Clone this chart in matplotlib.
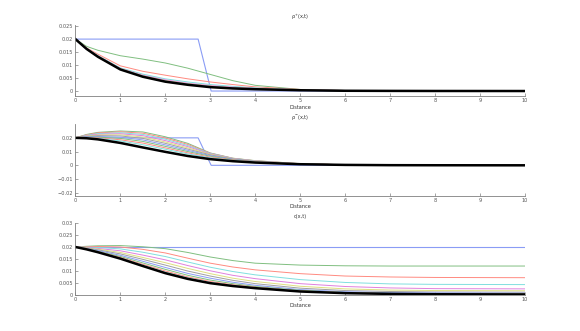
import matplotlib
matplotlib.use("Agg")
import matplotlib.pyplot as plt

# ---------------- data ----------------
X = [0, 0.25, 0.5, 1, 1.5, 2, 2.5, 3, 3.5, 4, 5, 6, 7, 8, 10]

# initial profiles (blue)
init_x = [0, 2.73, 3.02, 10]
init_rho = [0.02, 0.02, 0.0, 0.0]
init_c_x = [0, 10]
init_c = [0.02, 0.02]

# rho+ intermediate curves
rp1 = [.0200, .0172, .0157, .0136, .0123, .0108, .0088, .0064, .0040, .0022, .0006, .0002, .0001, .00003, 0]
rp2 = [.0200, .0166, .0142, .0097, .0076, .0061, .0047, .0035, .0025, .0016, .0006, .0002, .0001, .00003, 0]
rp3 = [.0200, .0164, .0137, .0089, .0065, .0047, .0035, .0025, .0018, .0012, .0005, .0002, .0001, .00003, 0]
rp4 = [.0200, .0163, .0135, .0087, .0061, .0043, .0030, .0021, .0015, .0010, .0004, .0002, .0001, .00002, 0]
rp5 = [.0200, .0163, .0134, .0086, .0059, .0040, .0028, .0019, .0013, .0009, .0004, .0001, .0001, .00002, 0]
rp6 = [.0200, .0162, .0133, .0085, .0058, .0039, .0027, .0018, .0012, .0008, .0003, .0001, .0001, .00002, 0]
rp7 = [.0200, .0162, .0133, .0084, .0057, .0038, .0026, .0017, .0012, .0008, .0003, .0001, .00005, .00002, 0]
rp8 = [.0200, .0162, .0132, .0084, .0056, .0037, .0025, .0016, .0011, .0008, .0003, .0001, .00005, .00002, 0]
rp9 = [.0200, .0162, .0132, .0083, .0056, .0037, .0025, .0016, .0011, .0007, .0003, .0001, .00005, .00002, 0]
rp10 = [.0200, .0162, .0132, .0083, .0055, .0036, .0024, .0016, .0010, .0007, .0003, .0001, .00005, .00002, 0]
rp_final = [.0200, .0162, .0132, .0083, .0055, .0036, .0024, .0015, .0010, .0007, .0003, .0001, .00005, .00002, 0]

# rho- intermediate curves
rm1 = [.0200, .0225, .0240, .0250, .0243, .0208, .0160, .0090, .0052, .0034, .0012, .0004, .0001, .00003, 0]
rm2 = [.0200, .0222, .0236, .0244, .0234, .0199, .0152, .0088, .0051, .0033, .0012, .0004, .0001, .00003, 0]
rm3 = [.0200, .0219, .0231, .0237, .0225, .0190, .0144, .0086, .0050, .0032, .0011, .0004, .0001, .00003, 0]
rm4 = [.0200, .0216, .0226, .0230, .0216, .0180, .0136, .0083, .0049, .0031, .0011, .0004, .0001, .00003, 0]
rm5 = [.0200, .0213, .0221, .0222, .0206, .0170, .0127, .0080, .0047, .0030, .0011, .0004, .0001, .00003, 0]
rm6 = [.0200, .0210, .0216, .0214, .0196, .0160, .0118, .0076, .0046, .0029, .0010, .0004, .0001, .00003, 0]
rm7 = [.0200, .0207, .0210, .0205, .0185, .0149, .0109, .0071, .0044, .0028, .0010, .0004, .0001, .00003, 0]
rm8 = [.0200, .0204, .0205, .0196, .0174, .0138, .0100, .0066, .0041, .0027, .0010, .0004, .0001, .00003, 0]
rm9 = [.0200, .0202, .0200, .0186, .0162, .0127, .0091, .0060, .0039, .0026, .0010, .0004, .0001, .00003, 0]
rm10 = [.0200, .0200, .0196, .0178, .0150, .0117, .0083, .0055, .0036, .0024, .0009, .0003, .0001, .00003, 0]
rm_final = [.0200, .0197, .0189, .0163, .0130, .0098, .0068, .0045, .0030, .0020, .0008, .0003, .0001, .00005, 0]

# c intermediate curves
c1 = [.0200, .0203, .0205, .0206, .0201, .0193, .0177, .0158, .0143, .0132, .0124, .0121, .0120, .0120, .0120]
c2 = [.0200, .0201, .0202, .0200, .0190, .0175, .0153, .0132, .0116, .0104, .0088, .0078, .0074, .0072, .0071]
c3 = [.0200, .0199, .0198, .0192, .0178, .0160, .0137, .0115, .0097, .0083, .0063, .0051, .0045, .0043, .0042]
c4 = [.0200, .0197, .0194, .0184, .0166, .0146, .0122, .0100, .0081, .0067, .0046, .0034, .0028, .0025, .0024]
c5 = [.0200, .0196, .0191, .0177, .0156, .0134, .0110, .0088, .0069, .0055, .0035, .0024, .0019, .0017, .0016]
c6 = [.0200, .0195, .0188, .0171, .0148, .0124, .0099, .0078, .0060, .0046, .0027, .0017, .0013, .0011, .0010]
c7 = [.0200, .0193, .0185, .0165, .0140, .0114, .0089, .0069, .0052, .0039, .0021, .0012, .0008, .0007, .0006]
c8 = [.0200, .0192, .0182, .0160, .0133, .0106, .0081, .0061, .0046, .0034, .0018, .0009, .0005, .0004, .0004]
c9 = [.0200, .0191, .0180, .0156, .0127, .0099, .0074, .0055, .0041, .0031, .0015, .0008, .0004, .0003, .0002]
c10 = [.0200, .0190, .0179, .0153, .0123, .0094, .0070, .0051, .0038, .0029, .0014, .0007, .0003, .0002, .0001]
c_final = [.0200, .0190, .0178, .0151, .0120, .0090, .0066, .0048, .0036, .0027, .0013, .0006, .0003, .00015, .00005]

titles = ["\u03c1$^{+}$(x,t)", "\u03c1$^{-}$(x,t)", "c(x,t)"]
xlabel = "Distance"
xticks = list(range(0, 11))
yticks1 = [0, 0.005, 0.01, 0.015, 0.02, 0.025]
ylabels1 = ["0", "0.005", "0.01", "0.015", "0.02", "0.025"]
yticks2 = [-0.02, -0.01, 0, 0.01, 0.02]
ylabels2 = ["\u22120.02", "\u22120.01", "0", "0.01", "0.02"]
yticks3 = [0, 0.005, 0.01, 0.015, 0.02, 0.025, 0.03]
ylabels3 = ["0", "0.005", "0.01", "0.015", "0.02", "0.025", "0.03"]

# ---------------- style ----------------
cycle = ["#80bf80", "#ff8a80", "#80dfdf", "#df80df", "#dfdf80", "#a0a0a0", "#8a9cf5"]
blue = "#8a9cf5"
tick_col = "#555555"
fs = 3.6

fig = plt.figure(figsize=(5.8, 3.31), dpi=100)
positions = [(0.13, 0.7093, 0.775, 0.2157),
             (0.13, 0.4093, 0.775, 0.2157),
             (0.13, 0.11, 0.775, 0.2157)]

panels = [
    (init_x, init_rho, [rp1, rp2, rp3, rp4, rp5, rp6, rp7, rp8, rp9, rp10], rp_final,
     (-0.002, 0.0255), yticks1, ylabels1),
    (init_x, init_rho, [rm1, rm2, rm3, rm4, rm5, rm6, rm7, rm8, rm9, rm10], rm_final,
     (-0.022, 0.030), yticks2, ylabels2),
    (init_c_x, init_c, [c1, c2, c3, c4, c5, c6, c7, c8, c9, c10], c_final,
     (0, 0.03), yticks3, ylabels3),
]

for i, (ix, iy, mids, fin, ylim, yt, yl) in enumerate(panels):
    ax = fig.add_axes(positions[i])
    ax.plot(ix, iy, color=blue, lw=0.8)
    for j, cv in enumerate(mids):
        ax.plot(X, cv, color=cycle[j % len(cycle)], lw=0.7)
    ax.plot(X, fin, color="black", lw=1.8)
    ax.set_xlim(0, 10)
    ax.set_ylim(*ylim)
    ax.set_xticks(xticks)
    ax.set_xticklabels([str(t) for t in xticks])
    ax.set_yticks(yt)
    ax.set_yticklabels(yl)
    for s in ["top", "right"]:
        ax.spines[s].set_visible(False)
    for s in ["left", "bottom"]:
        ax.spines[s].set_color("#808080")
        ax.spines[s].set_linewidth(0.6)
    ax.tick_params(direction="in", length=2.5, width=0.5, colors="#808080",
                   labelsize=fs, labelcolor=tick_col, pad=1.5)
    ax.set_xlabel(xlabel, fontsize=fs, color="#333333", labelpad=1)
    ax.set_title(titles[i], fontsize=fs, color="#333333", pad=4)

fig.savefig("out.png", dpi=100)
